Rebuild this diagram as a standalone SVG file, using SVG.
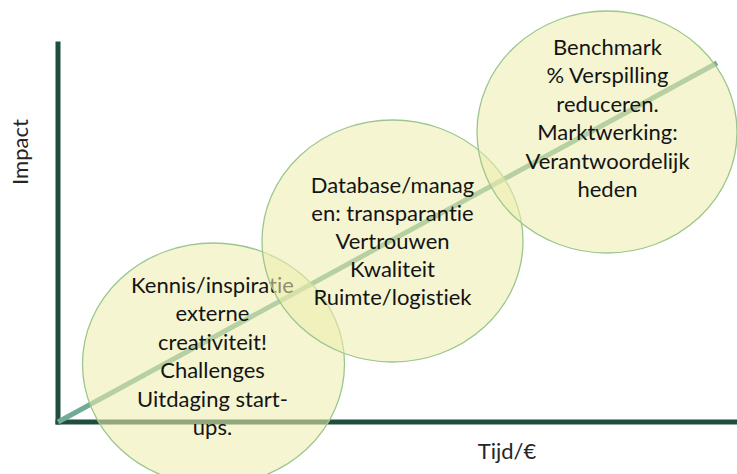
<svg xmlns="http://www.w3.org/2000/svg" width="737" height="474" viewBox="0 0 737 474">
  <style>
    .bg { fill: #ffffff; }
    .axis { stroke: #1f4e3f; stroke-width: 5; fill: none; stroke-linecap: square; }
    .trend { stroke: #71ab93; stroke-width: 5; fill: none; }
    .bubble { fill: #eeeeae; fill-opacity: 0.56; stroke: #9cc68e; stroke-width: 1.3; }
    .label { font-family: "Lato", "Liberation Sans", sans-serif; font-size: 22px; fill: #141414; text-anchor: middle; font-variant-ligatures: none; font-feature-settings: "liga" 0, "dlig" 0; }
    .axislabel { font-family: "Lato", "Liberation Sans", sans-serif; font-size: 22px; fill: #262626; text-anchor: middle; font-variant-ligatures: none; }
  </style>
  <rect class="bg" x="0" y="0" width="737" height="474"/>
  <g id="connectors">
    <line class="axis" x1="58" y1="44" x2="58" y2="422"/>
    <line class="axis" x1="58" y1="422" x2="740" y2="422"/>
    <line class="trend" x1="58" y1="422" x2="717" y2="63"/>
  </g>
  <g id="axis-labels">
    <text class="axislabel" transform="translate(28,152) rotate(-90)">Impact</text>
    <text class="axislabel" x="507" y="459">Tijd/€</text>
  </g>
  <g id="node-1">
    <ellipse class="bubble" cx="213.5" cy="364" rx="131" ry="121"/>
    <text class="label" x="212.5" y="293">Kennis/inspiratie<tspan x="212.5" dy="28.4">externe</tspan><tspan x="212.5" dy="28.4">creativiteit!</tspan><tspan x="212.5" dy="28.4">Challenges</tspan><tspan x="212.5" dy="28.4">Uitdaging start-</tspan><tspan x="212.5" dy="28.4">ups.</tspan></text>
  </g>
  <g id="node-2">
    <ellipse class="bubble" cx="392.5" cy="241" rx="130.5" ry="121"/>
    <text class="label" x="392.5" y="193">Database/manag<tspan x="392.5" dy="28">en: transparantie</tspan><tspan x="392.5" dy="28">Vertrouwen</tspan><tspan x="392.5" dy="28">Kwaliteit</tspan><tspan x="392.5" dy="28">Ruimte/logistiek</tspan></text>
  </g>
  <g id="node-3">
    <ellipse class="bubble" cx="607" cy="132" rx="130" ry="121"/>
    <text class="label" x="607.5" y="55">Benchmark<tspan x="607.5" dy="28.4">% Verspilling</tspan><tspan x="607.5" dy="28.4">reduceren.</tspan><tspan x="607.5" dy="28.4">Marktwerking:</tspan><tspan x="607.5" dy="28.4">Verantwoordelijk</tspan><tspan x="607.5" dy="28.4">heden</tspan></text>
  </g>
</svg>
